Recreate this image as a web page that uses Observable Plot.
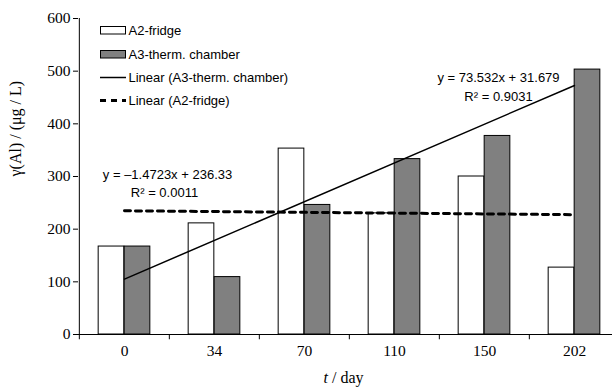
<!DOCTYPE html>
<html>
<head>
<meta charset="utf-8">
<script src="https://cdn.jsdelivr.net/npm/d3@7"></script>
<script src="https://cdn.jsdelivr.net/npm/@observablehq/plot@0.6"></script>
<style>
  html, body { margin: 0; padding: 0; background: #fff; }
  #chart { width: 612px; height: 390px; overflow: hidden; }
</style>
</head>
<body>
<div id="chart"></div>
<script>
// ---- data ----
const days = ["0", "34", "70", "110", "150", "202"];
const fridge = [167, 211, 353, 230, 300, 127];      // A2-fridge
const chamber = [167, 109, 246, 333, 377, 503];     // A3-therm. chamber
const trendDays = ["0", "202"];
const chamberTrend = [105.2, 472.9];                 // Linear (A3-therm. chamber)
const fridgeTrend = [234.9, 227.5];                  // Linear (A2-fridge)
const yTicks = [0, 100, 200, 300, 400, 500, 600];
const seriesNames = ["A2-fridge", "A3-therm. chamber", "Linear (A3-therm. chamber)", "Linear (A2-fridge)"];
const chamberEq = ["y = 73.532x + 31.679", "R\u00b2 = 0.9031"];
const fridgeEq = ["y = \u20131.4723x + 236.33", "R\u00b2 = 0.0011"];
const yLabel = "\u03b3(Al) / (\u03bcg / L)";

const fridgeData = days.map((d, i) => ({day: d, v: fridge[i]}));
const chamberData = days.map((d, i) => ({day: d, v: chamber[i]}));
const chamberTrendData = trendDays.map((d, i) => ({day: d, v: chamberTrend[i]}));
const fridgeTrendData = trendDays.map((d, i) => ({day: d, v: fridgeTrend[i]}));

const W = 612, H = 390, mL = 78, mT = 18, mB = 56, mR = -8;
const bw = (W - mR - mL) / days.length;
const barW = 26;
const serif = "'Liberation Serif', 'Times New Roman', serif";
const sans = "'Liberation Sans', Arial, sans-serif";
const eqStyle = {frameAnchor: "top-left", textAnchor: "middle", lineAnchor: "middle", fontFamily: sans, fontSize: 13, fill: "black"};

const plot = Plot.plot({
  width: W, height: H,
  marginLeft: mL, marginTop: mT, marginBottom: mB, marginRight: mR,
  style: {fontFamily: serif, background: "white", overflow: "hidden"},
  x: {domain: days, padding: 0, axis: null},
  y: {domain: [0, 600], axis: null},
  marks: [
    Plot.barY(fridgeData, {x: "day", y: "v", fill: "white", stroke: "black", strokeWidth: 1,
      insetLeft: bw / 2 - barW, insetRight: bw / 2}),
    Plot.barY(chamberData, {x: "day", y: "v", fill: "#808080", stroke: "black", strokeWidth: 1,
      insetLeft: bw / 2, insetRight: bw / 2 - barW}),
    Plot.ruleY([0], {stroke: "black", strokeWidth: 1}),
    Plot.ruleX(days.slice(0, 1), {x: d => d, dx: -bw / 2, y1: -10, y2: 600, stroke: "black", strokeWidth: 1}),
    Plot.ruleX(days.slice(1), {x: d => d, dx: -bw / 2, y1: -10, y2: 0, stroke: "black", strokeWidth: 1}),
    Plot.axisY(yTicks, {anchor: "left", tickSize: 5, tickPadding: 3, fontSize: 15.5, label: null, stroke: "black", color: "black"}),
    Plot.axisX({anchor: "bottom", tickSize: 0, tickPadding: 10, fontSize: 15.5, label: null, color: "black"}),
    Plot.line(fridgeTrendData, {x: "day", y: "v", stroke: "black", strokeWidth: 3, strokeDasharray: "6,5"}),
    Plot.line(chamberTrendData, {x: "day", y: "v", stroke: "black", strokeWidth: 1.5}),
    Plot.text([chamberEq[0]], {...eqStyle, dx: 420, dy: 59.7}),
    Plot.text([chamberEq[1]], {...eqStyle, dx: 420, dy: 78.7}),
    Plot.text([fridgeEq[0]], {...eqStyle, dx: 89, dy: 156}),
    Plot.text([fridgeEq[1]], {...eqStyle, dx: 86, dy: 174.7}),
    Plot.text([yLabel], {frameAnchor: "left", dx: -63, rotate: -90, fontFamily: serif, fontSize: 16, fill: "black"}),
    Plot.text(["t / day"], {frameAnchor: "bottom", dx: -6, dy: 48, fontFamily: serif, fontSize: 16, fill: "black", className: "xlabel"})
  ]
});

document.getElementById("chart").appendChild(plot);

// italic "t" in x label
const svg = d3.select(plot);
svg.selectAll(".xlabel text").each(function () {
  const t = d3.select(this);
  t.text(null);
  t.append("tspan").attr("font-style", "italic").text("t");
  t.append("tspan").text(" / day");
});

// legend inside plot area
const lg = svg.append("g").attr("font-family", sans).attr("font-size", 13).attr("fill", "black")
  .attr("text-anchor", "start");
const items = [
  {type: "rect", fill: "white", y: 30},
  {type: "rect", fill: "#808080", y: 54},
  {type: "line", dash: null, w: 1.5, y: 77.5},
  {type: "line", dash: "6,5", w: 3, y: 100.5}
];
items.forEach((it, i) => {
  if (it.type === "rect") {
    lg.append("rect").attr("x", 100.5).attr("y", it.y - 3.5).attr("width", 25).attr("height", 7.5)
      .attr("fill", it.fill).attr("stroke", "black").attr("stroke-width", 1);
  } else {
    lg.append("line").attr("x1", 100).attr("x2", 126).attr("y1", it.y).attr("y2", it.y)
      .attr("stroke", "black").attr("stroke-width", it.w).attr("stroke-dasharray", it.dash);
  }
  lg.append("text").attr("x", 128.5).attr("y", it.y).attr("dy", "0.35em").attr("text-anchor", "start").text(seriesNames[i]);
});
</script>
</body>
</html>
